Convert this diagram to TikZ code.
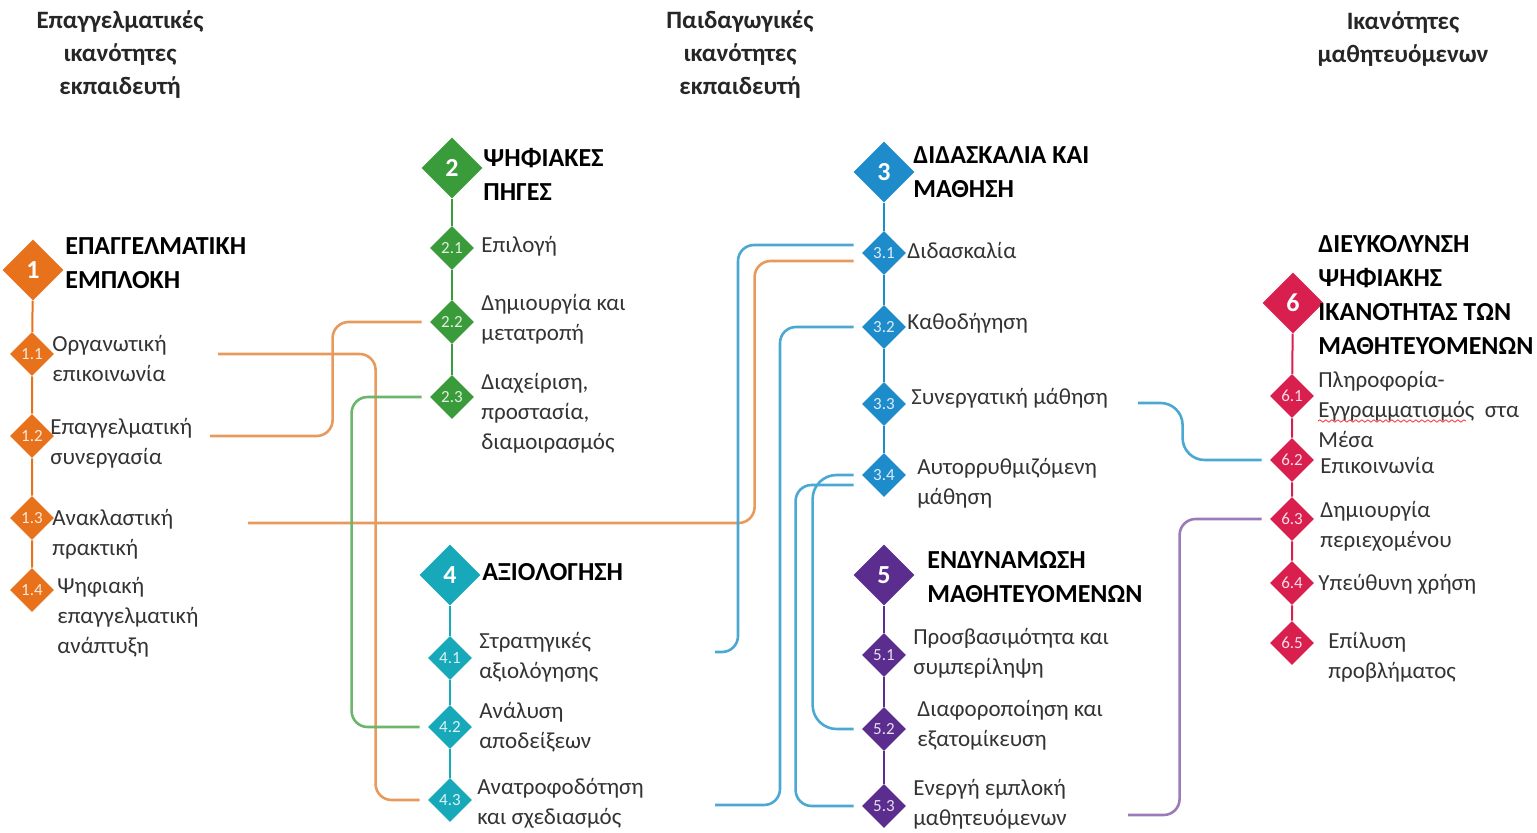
\documentclass[tikz,border=0pt]{standalone}
\usepackage{fontspec}
\setmainfont{Carlito}
\usepackage{tikz}
\usetikzlibrary{shapes.geometric, calc, decorations.pathmorphing}
\definecolor{engorange}{HTML}{E8711C}
\definecolor{resgreen}{HTML}{3A9B3A}
\definecolor{teachblue}{HTML}{1E8BCB}
\definecolor{assteal}{HTML}{17A9B9}
\definecolor{empurple}{HTML}{5B2D8E}
\definecolor{faccrimson}{HTML}{D81F4E}
\definecolor{linkorange}{HTML}{E89A5C}
\definecolor{linkgreen}{HTML}{6DB56D}
\definecolor{linkblue}{HTML}{4AA8D2}
\definecolor{linkpurple}{HTML}{9A7BB8}
\tikzset{
  bigdiamond/.style={diamond, aspect=1, fill=#1, inner sep=0pt, minimum size=30.5pt,
                 text=white, font=\fontsize{13}{13}\selectfont\bfseries},
  subdiamond/.style={diamond, aspect=1, fill=#1, inner sep=0pt, minimum size=22pt,
                 text=white!85!#1, font=\fontsize{8.5}{8.5}\selectfont},
  titlelabel/.style={anchor=west, align=left, inner sep=0pt, text=black,
                 font=\fontsize{13}{17}\selectfont\bfseries},
  sublabel/.style={anchor=west, align=left, inner sep=0pt, text=black!80,
                 font=\fontsize{11.5}{15}\selectfont},
  colhead/.style={align=center, inner sep=0pt, text=black!85,
                 font=\fontsize{12.5}{16.5}\selectfont\bfseries},
  spine/.style={draw=#1, line width=1pt},
  link/.style={draw=#1, line width=1.3pt, rounded corners=8pt},
}

\begin{document}
\begin{tikzpicture}[x=0.5pt, y=-0.5pt]
  \useasboundingbox (0,0) rectangle (1537,833);
  % Column headings
  \node[colhead] (h1) at (120,55)   {Επαγγελματικές\\ικανότητες\\εκπαιδευτή};
  \node[colhead] (h2) at (740,55)   {Παιδαγωγικές\\ικανότητες\\εκπαιδευτή};
  \node[colhead] (h3) at (1403,39)  {Ικανότητες\\μαθητευόμενων};

  % Area 1
  \node[bigdiamond=engorange] (d1)  at (33,270)  {1};
  \node[subdiamond=engorange] (d11) at (32,354)  {1.1};
  \node[subdiamond=engorange] (d12) at (32,436)  {1.2};
  \node[subdiamond=engorange] (d13) at (32,518)  {1.3};
  \node[subdiamond=engorange] (d14) at (32,590)  {1.4};
  \draw[spine=engorange] (d1) -- (d11) -- (d12) -- (d13) -- (d14);
  \node[titlelabel] (l1)  at (65,263)   {ΕΠΑΓΓΕΛΜΑΤΙΚΗ\\ΕΜΠΛΟΚΗ};
  \node[sublabel]   (l11) at (52,358)   {Οργανωτική\\επικοινωνία};
  \node[sublabel]   (l12) at (50,443)   {Επαγγελματική\\συνεργασία};
  \node[sublabel]   (l13) at (52,534)   {Ανακλαστική\\πρακτική};
  \node[sublabel]   (l14) at (57,617)   {Ψηφιακή\\επαγγελματική\\ανάπτυξη};

  % Area 2
  \node[bigdiamond=resgreen] (d2)  at (452,168) {2};
  \node[subdiamond=resgreen] (d21) at (452,248) {2.1};
  \node[subdiamond=resgreen] (d22) at (452,322) {2.2};
  \node[subdiamond=resgreen] (d23) at (452,397) {2.3};
  \draw[spine=resgreen] (d2) -- (d21) -- (d22) -- (d23);
  \node[titlelabel] (l2)  at (483,174)  {ΨΗΦΙΑΚΕΣ\\ΠΗΓΕΣ};
  \node[sublabel]   (l21) at (481,246)  {Επιλογή};
  \node[sublabel]   (l22) at (481,319)  {Δημιουργία και\\μετατροπή};
  \node[sublabel]   (l23) at (481,413)  {Διαχείριση,\\προστασία,\\διαμοιρασμός};

  % Area 3
  \node[bigdiamond=teachblue] (d3)  at (884,172) {3};
  \node[subdiamond=teachblue] (d31) at (884,253) {3.1};
  \node[subdiamond=teachblue] (d32) at (884,327) {3.2};
  \node[subdiamond=teachblue] (d33) at (884,404) {3.3};
  \node[subdiamond=teachblue] (d34) at (884,475) {3.4};
  \draw[spine=teachblue] (d3) -- (d31) -- (d32) -- (d33) -- (d34);
  \node[titlelabel] (l3)  at (913,172)  {ΔΙΔΑΣΚΑΛΙΑ ΚΑΙ\\ΜΑΘΗΣΗ};
  \node[sublabel]   (l31) at (907,250)  {Διδασκαλία};
  \node[sublabel]   (l32) at (907,323)  {Καθοδήγηση};
  \node[sublabel]   (l33) at (911,398)  {Συνεργατική μάθηση};
  \node[sublabel]   (l34) at (917,483)  {Αυτορρυθμιζόμενη\\μάθηση};

  % Area 4
  \node[bigdiamond=assteal] (d4)  at (450,575) {4};
  \node[subdiamond=assteal] (d41) at (450,658) {4.1};
  \node[subdiamond=assteal] (d42) at (450,727) {4.2};
  \node[subdiamond=assteal] (d43) at (450,800) {4.3};
  \draw[spine=assteal] (d4) -- (d41) -- (d42) -- (d43);
  \node[titlelabel] (l4)  at (482,572)  {ΑΞΙΟΛΟΓΗΣΗ};
  \node[sublabel]   (l41) at (479,657)  {Στρατηγικές\\αξιολόγησης};
  \node[sublabel]   (l42) at (479,727)  {Ανάλυση\\αποδείξεων};
  \node[sublabel]   (l43) at (477,803)  {Ανατροφοδότηση\\και σχεδιασμός};

  % Area 5
  \node[bigdiamond=empurple] (d5)  at (884,575) {5};
  \node[subdiamond=empurple] (d51) at (884,655) {5.1};
  \node[subdiamond=empurple] (d52) at (884,729) {5.2};
  \node[subdiamond=empurple] (d53) at (884,806) {5.3};
  \draw[spine=empurple] (d5) -- (d51) -- (d52) -- (d53);
  \node[titlelabel] (l5)  at (927,577)  {ΕΝΔΥΝΑΜΩΣΗ\\ΜΑΘΗΤΕΥΟΜΕΝΩΝ};
  \node[sublabel]   (l51) at (913,653)  {Προσβασιμότητα και\\συμπερίληψη};
  \node[sublabel]   (l52) at (917,725)  {Διαφοροποίηση και\\εξατομίκευση};
  \node[sublabel]   (l53) at (913,804)  {Ενεργή εμπλοκή\\μαθητευόμενων};

  % Area 6
  \node[bigdiamond=faccrimson] (d6)  at (1293,303) {6};
  \node[subdiamond=faccrimson] (d61) at (1292,396) {6.1};
  \node[subdiamond=faccrimson] (d62) at (1292,460) {6.2};
  \node[subdiamond=faccrimson] (d63) at (1292,519) {6.3};
  \node[subdiamond=faccrimson] (d64) at (1292,583) {6.4};
  \node[subdiamond=faccrimson] (d65) at (1292,643) {6.5};
  \draw[spine=faccrimson] (d6) -- (d61) -- (d62) -- (d63) -- (d64) -- (d65);
  \node[titlelabel] (l6)  at (1318,295) {ΔΙΕΥΚΟΛΥΝΣΗ\\ΨΗΦΙΑΚΗΣ\\ΙΚΑΝΟΤΗΤΑΣ ΤΩΝ\\ΜΑΘΗΤΕΥΟΜΕΝΩΝ};
  \node[sublabel]   (l61) at (1318,409) {Πληροφορία-\\Εγγραμματισμός\ \ στα\\Μέσα};
  \node[sublabel]   (l62) at (1320,465) {Επικοινωνία};
  \node[sublabel]   (l63) at (1320,526) {Δημιουργία\\περιεχομένου};
  \node[sublabel]   (l64) at (1318,584) {Υπεύθυνη χρήση};
  \node[sublabel]   (l65) at (1328,657) {Επίλυση\\προβλήματος};
  \draw[red!80, line width=0.4pt, decorate,
        decoration={snake, amplitude=0.6pt, segment length=3pt}]
        (1318,421) -- (1466,421);

  % Free ends of the links
  \coordinate (o11) at (218,354);
  \coordinate (o12) at (210,436);
  \coordinate (o13) at (248,523);
  \coordinate (o33) at (1138,403);
  \coordinate (o41) at (715,652);
  \coordinate (o43) at (715,805);
  \coordinate (o53) at (1128,815);

  % Links
  \draw[link=linkorange] (o11) -| ($(d43.west)+(-52,0)$) -- ([xshift=-4pt]d43.west);
  \draw[link=linkorange] (o12) -| ($(d22.west)+(-97,0)$) -- ([xshift=-4pt]d22.west);
  \draw[link=linkorange] (o13) -| ($(d31.west)+(-107,8)$) -- ([xshift=-4pt,yshift=-4pt]d31.west);
  \draw[link=linkgreen] ([xshift=-4pt]d23.west) -| ($(d42.west)+(-76,0)$) -- ([xshift=-4pt]d42.west);
  \draw[link=linkblue] ([xshift=-4pt,yshift=4pt]d31.west) -| ($(o41)+(23,0)$) -- (o41);
  \draw[link=linkblue] ([xshift=-4pt]d32.west) -| ($(o43)+(65,0)$) -- (o43);
  \draw[link=linkblue, rounded corners=12pt] ([xshift=-4pt]d34.west) -| ($(d52.west)+(-49,0)$)
        [rounded corners=8pt] -- ([xshift=-4pt]d52.west);
  \draw[link=linkblue] ([xshift=-4pt,yshift=-5pt]d34.west) -| ($(d53.west)+(-66,0)$) -- ([xshift=-4pt]d53.west);
  \draw[link=linkblue, rounded corners=11pt] (o33) -| ($(d62.west)+(-87,0)$) -- ([xshift=-4pt]d62.west);
  \draw[link=linkpurple] (o53) -| ($(d63.west)+(-90,0)$) -- ([xshift=-4pt]d63.west);
\end{tikzpicture}
\end{document}
